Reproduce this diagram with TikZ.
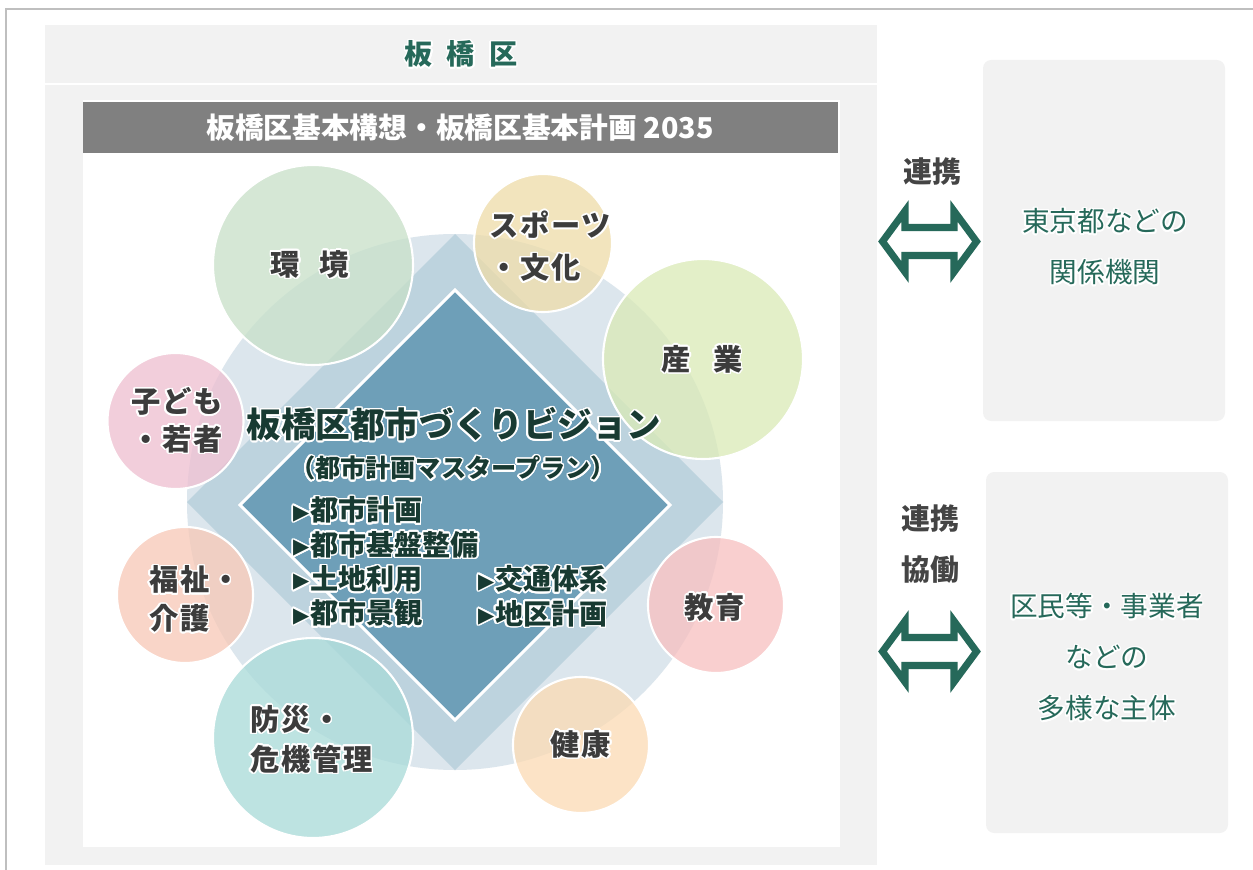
\documentclass[tikz,border=0pt]{standalone}
\usepackage{fontspec}
\usepackage{contour}
\newfontfamily\jp{Noto Sans CJK JP}
\newfontfamily\jpls{Noto Sans CJK JP}[LetterSpace=6]
\newfontfamily\sym{DejaVu Sans}
\contourlength{1.3pt}
\contournumber{24}
\newcommand{\gl}[1]{\contour{white}{#1}}
\newcommand{\mk}{\raisebox{1.5pt}{\sym\fontsize{18}{18}\selectfont ▶}\kern0.5pt}

\definecolor{panelgray}{HTML}{F2F2F2}
\definecolor{bargray}{HTML}{808080}
\definecolor{framegray}{HTML}{BFBFBF}
\definecolor{deepgreen}{RGB}{38,105,90}
\definecolor{titlegreen}{RGB}{24,58,50}
\definecolor{labelgray}{HTML}{3C3C3C}
\definecolor{linkgray}{HTML}{444444}
\definecolor{ringblue}{RGB}{220,230,237}
\definecolor{midblue}{RGB}{189,211,222}
\definecolor{coreblue}{RGB}{110,159,184}
\definecolor{envgreen}{RGB}{199,224,200}
\definecolor{sportyellow}{RGB}{238,220,168}
\definecolor{industrygreen}{RGB}{218,234,182}
\definecolor{childpink}{RGB}{238,190,208}
\definecolor{welfaresalmon}{RGB}{248,200,182}
\definecolor{safetyteal}{RGB}{168,218,216}
\definecolor{healthpeach}{RGB}{252,218,179}
\definecolor{schoolpink}{RGB}{247,191,191}

\tikzset{
	linkarrow/.pic={
        code={
\draw[deepgreen,line width=6pt,fill=white](-47,0)--(-24.5,-30.5)--(-24.5,-14)--(24.5,-14)--(24.5,-30.5)--(47,0)--(24.5,30.5)--(24.5,14)--(-24.5,14)--(-24.5,30.5)--cycle;
							}
	}
}
\tikzset{
	bubble/.style={draw=white,line width=1.8pt,fill=#1,fill opacity=0.75},
	lbl/.style={inner sep=0pt,align=left,text=labelgray,font=\jpls\bfseries\fontsize{25}{#1}\selectfont},
	lbl/.default=33pt,
	boxtext/.style={inner sep=0pt,align=center,text=deepgreen,font=\jp\fontsize{23.6}{43.5}\selectfont},
	linktext/.style={inner sep=0pt,align=center,text=linkgray,font=\jp\bfseries\fontsize{24.7}{43.5}\selectfont}
}

\begin{document}
\begin{tikzpicture}[x=0.03cm,y=-0.03cm]
\useasboundingbox (0,0) rectangle (1253,870);
%Rahmen
\draw[framegray,line width=1.5pt] (6,870)--(6,9)--(1253,9);
\fill[panelgray] (45,25) rectangle (877,865);
\draw[white,line width=1.5pt] (45,84)--(877,84);
\fill[white] (83,100) rectangle (840,847);
\fill[bargray] (83,102) rectangle (838,153);
\node[inner sep=0pt,text=deepgreen,font=\jp\bfseries\fontsize{24}{24}\selectfont] (ward) at (461,55) {\gl{板\hspace{12pt}橋\hspace{12pt}区}};
\node[inner sep=0pt,text=white,font=\jp\bfseries\fontsize{24.5}{24.5}\selectfont] (plan2035) at (460,128) {板橋区基本構想・板橋区基本計画 2035};
%Mitte
\fill[ringblue] (455,502) circle[radius=268];
\fill[midblue] (455,234)--(723,502)--(455,770)--(187,502)--cycle;
\draw[white,line width=2.5pt,fill=coreblue] (455,290)--(670,505)--(455,720)--(240,505)--cycle;
%Kreise
\path[bubble=envgreen] (313,265) circle[radius=100];
\path[bubble=sportyellow] (543,243) circle[radius=69];
\path[bubble=industrygreen] (703,359) circle[radius=100];
\path[bubble=childpink] (175.5,421) circle[radius=68];
\path[bubble=welfaresalmon] (185,595) circle[radius=68];
\path[bubble=safetyteal] (313,738) circle[radius=100];
\path[bubble=healthpeach] (581,745) circle[radius=68];
\path[bubble=schoolpink] (716,605) circle[radius=68];
\node[lbl] (kankyo) at (310,265) {\gl{環\hspace{17pt}境}};
\node[lbl=36pt,anchor=west] (sports) at (489,247) {\gl{スポーツ}\\\gl{・文化}};
\node[lbl] (sangyo) at (702,360) {\gl{産\hspace{19pt}業}};
\node[lbl=32pt,anchor=west] (kodomo) at (131,421) {\gl{子ども}\\\gl{・若者}};
\node[lbl=33pt,anchor=west] (fukushi) at (149,600) {\gl{福祉・}\\\gl{介護}};
\node[lbl=34pt,anchor=west] (bousai) at (250,740) {\gl{防災・}\\\gl{危機管理}};
\node[lbl] (kenkou) at (581,745) {\gl{健康}};
\node[lbl] (kyouiku) at (715,608) {\gl{教育}};
%Vision
\node[inner sep=0pt,text=titlegreen,font=\jp\bfseries\fontsize{29.5}{30}\selectfont] (vision) at (454,425) {\gl{板橋区都市づくりビジョン}};
\node[inner sep=0pt,text=titlegreen,font=\jp\bfseries\fontsize{21.5}{22}\selectfont] (masterplan) at (453,469) {\gl{（都市計画マスタープラン）}};
\node[inner sep=0pt,align=left,anchor=west,text=titlegreen,font=\jp\bfseries\fontsize{24}{29.3}\selectfont] (itemsL) at (293,562.5) {\gl{\mk 都市計画}\\\gl{\mk 都市基盤整備}\\\gl{\mk 土地利用}\\\gl{\mk 都市景観}};
\node[inner sep=0pt,align=left,anchor=west,text=titlegreen,font=\jp\bfseries\fontsize{24}{29.3}\selectfont] (itemsR) at (478,597) {\gl{\mk 交通体系}\\\gl{\mk 地区計画}};
%rechts
\fill[panelgray,rounded corners=7pt] (983,60) rectangle (1225,421);
\fill[panelgray,rounded corners=7pt] (986,472) rectangle (1228,833);
\node[boxtext] (tokyo) at (1105,247.5) {\gl{東京都などの}\\\gl{関係機関}};
\node[boxtext] (kumin) at (1107,658) {\gl{区民等・事業者}\\\gl{などの}\\\gl{多様な主体}};
\node[linktext] (renkei) at (932,172) {連携};
\node[linktext] (kyoudou) at (930,544.5) {連携\\協働};
\coordinate (link1) at (929.5,241.5);
\coordinate (link2) at (929.5,651.5);
\path (link1) pic {linkarrow};
\path (link2) pic {linkarrow};
\end{tikzpicture}
\end{document}
